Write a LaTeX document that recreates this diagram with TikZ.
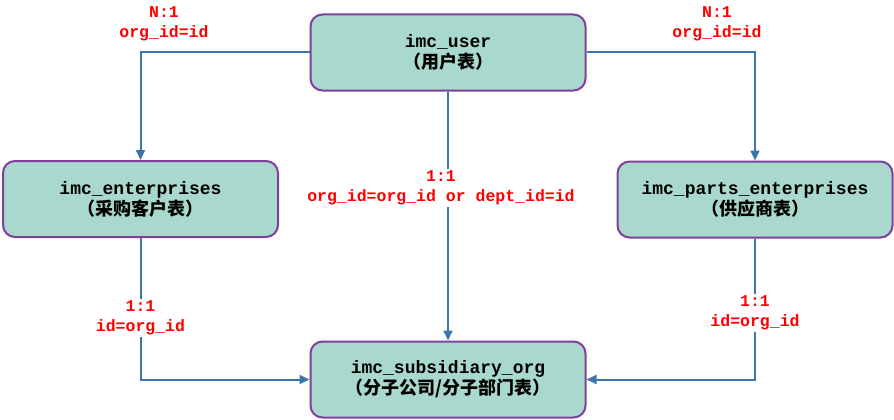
\documentclass[tikz,border=0pt]{standalone}
\usepackage{fontspec}
\setmonofont{Liberation Mono}
\newfontfamily\cjk{Noto Sans CJK SC}
\usetikzlibrary{arrows.meta}
\definecolor{boxfill}{HTML}{A9D9CC}
\definecolor{boxline}{HTML}{7E3F9E}
\definecolor{linkc}{HTML}{3C76A8}
\definecolor{lbl}{HTML}{FF0000}
\begin{document}
\begin{tikzpicture}[x=1pt,y=-1pt,
  tbl/.style={draw=boxline, fill=boxfill, line width=2pt, rounded corners=12pt,
    minimum width=275pt, minimum height=76pt, align=center, inner sep=0pt,
    font=\ttfamily\bfseries\fontsize{18}{21}\selectfont},
  rel/.style={fill=white, text=lbl, align=center, inner sep=2pt,
    font=\ttfamily\bfseries\fontsize{16.5}{19.5}\selectfont},
  link/.style={draw=linkc, line width=2pt, -{Triangle[length=10pt,width=9pt]}}]
\useasboundingbox (0,0) rectangle (894,420);
\node[tbl] (user) at (448,52.5) {imc\_user\\{\cjk （用户表）}};
\node[tbl] (ent) at (140.5,199) {imc\_enterprises\\{\cjk （采购客户表）}};
\node[tbl] (parts) at (755,199.5) {imc\_parts\_enterprises\\{\cjk （供应商表）}};
\node[tbl] (sub) at (448,379.5) {imc\_subsidiary\_org\\{\cjk （分子公司/分子部门表）}};
\draw[link] (user.west) -| (ent.north);
\draw[link] (user.east) -| (parts.north);
\draw[link] (user.south) -- (sub.north);
\draw[link] (ent.south) |- (sub.west);
\draw[link] (parts.south) |- (sub.east);
\node[rel] (l1) at (164,24) {N:1\\org\_id=id};
\node[rel] (l2) at (717,24) {N:1\\org\_id=id};
\node[rel] (l3) at (441,188) {1:1\\org\_id=org\_id or dept\_id=id};
\node[rel] (l4) at (140.5,318) {1:1\\id=org\_id};
\node[rel] (l5) at (755,313) {1:1\\id=org\_id};
\end{tikzpicture}
\end{document}
